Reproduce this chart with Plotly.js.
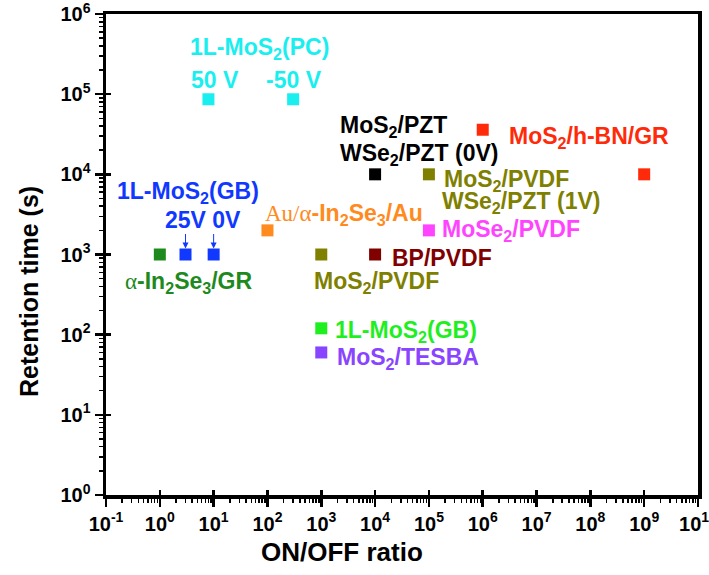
<!DOCTYPE html>
<html>
<head>
<meta charset="utf-8">
<script src="https://cdn.plot.ly/plotly-3.0.1.min.js"></script>
<style>html,body{margin:0;padding:0;background:#fff;}#chart{width:709px;height:575px;}</style>
</head>
<body>
<div id="chart"></div>
<script>
// ---- data ----
const pointNames = ['1L-MoS2(PC) 50 V', '1L-MoS2(PC) -50 V', 'a-In2Se3/GR', '1L-MoS2(GB) 25V', '1L-MoS2(GB) 0V',
  'Au/a-In2Se3/Au', 'MoS2/PVDF (a)', 'BP/PVDF', 'MoS2/PZT, WSe2/PZT (0V)', 'MoS2/PVDF, WSe2/PZT (1V)',
  'MoSe2/PVDF', 'MoS2/h-BN/GR', 'MoS2/h-BN/GR (b)', '1L-MoS2(GB) bright', 'MoS2/TESBA'];
const onOffRatio = [8, 300, 1, 3, 10, 100, 1000, 10000, 10000, 100000, 100000, 1000000, 1000000000, 1000, 1000];
const retentionTime = [86400, 86400, 1000, 1000, 1000, 2000, 1000, 1000, 10000, 10000, 2000, 36000, 10000, 120, 60];
const pointColors = ['#19EFEF', '#19EFEF', '#1E8A1E', '#1038FF', '#1038FF', '#FF8A1E', '#808000', '#800000',
  '#000000', '#808000', '#FF44FF', '#FF2A0A', '#FF2A0A', '#1FEE1F', '#8844FF'];

const xTickVals = [1e-1, 1e0, 1e1, 1e2, 1e3, 1e4, 1e5, 1e6, 1e7, 1e8, 1e9, 1e10];
const xTickText = ['10<sup>-1</sup>', '10<sup>0</sup>', '10<sup>1</sup>', '10<sup>2</sup>', '10<sup>3</sup>', '10<sup>4</sup>',
  '10<sup>5</sup>', '10<sup>6</sup>', '10<sup>7</sup>', '10<sup>8</sup>', '10<sup>9</sup>', '10<sup>10</sup>'];
const yTickVals = [1e0, 1e1, 1e2, 1e3, 1e4, 1e5, 1e6];
const yTickText = ['10<sup>0</sup>', '10<sup>1</sup>', '10<sup>2</sup>', '10<sup>3</sup>', '10<sup>4</sup>', '10<sup>5</sup>', '10<sup>6</sup>'];

const xTitle = 'ON/OFF ratio';
const yTitle = 'Retention time (s)';

const serifAlpha = '<span style="font-family:\'Liberation Serif\',serif;font-weight:normal">α</span>';
const labelTexts = [
  '1L-MoS<sub>2</sub>(PC)', '50 V', '-50 V',
  'MoS<sub>2</sub>/PZT', 'WSe<sub>2</sub>/PZT (0V)', 'MoS<sub>2</sub>/h-BN/GR',
  'MoS<sub>2</sub>/PVDF', 'WSe<sub>2</sub>/PZT (1V)', 'MoSe<sub>2</sub>/PVDF',
  '<span style="font-family:\'Liberation Serif\',serif;font-weight:normal">Au/α</span>-In<sub>2</sub>Se<sub>3</sub>/Au',
  '1L-MoS<sub>2</sub>(GB)', '25V 0V', serifAlpha + '-In<sub>2</sub>Se<sub>3</sub>/GR',
  'MoS<sub>2</sub>/PVDF', 'BP/PVDF', '1L-MoS<sub>2</sub>(GB)', 'MoS<sub>2</sub>/TESBA'
];

// ---- layout geometry ----
const W = 709, H = 575;
const M = {l: 106, r: 11, t: 14, b: 80};
const PW = W - M.l - M.r, PH = H - M.t - M.b;
const FONT = '"Liberation Sans", Arial, sans-serif';
const px = x => (x - M.l) / PW;
const pyp = y => (H - M.b - y) / PH;

// label placement [x px, y px, anchor, color]
const labelPos = [
  [259, 48, 'center', '#19EFEF'], [215, 80, 'center', '#19EFEF'], [294, 80, 'center', '#19EFEF'],
  [338, 127, 'left', '#000000'], [338, 155, 'left', '#000000'], [507, 137, 'left', '#FF2A0A'],
  [442, 180, 'left', '#808000'], [440, 202, 'left', '#808000'], [440, 231, 'left', '#FF44FF'],
  [263, 214, 'left', '#FF8A1E'], [115, 192, 'left', '#1038FF'], [163, 220, 'left', '#1038FF'],
  [123, 282, 'left', '#1E8A1E'], [312, 282, 'left', '#808000'], [390, 258, 'left', '#800000'],
  [333, 331, 'left', '#1FEE1F'], [335, 358, 'left', '#8844FF']
];

const annotations = labelTexts.map((t, i) => ({
  text: t, xref: 'paper', yref: 'paper',
  x: px(labelPos[i][0]), y: pyp(labelPos[i][1]),
  xanchor: labelPos[i][2], yanchor: 'middle', showarrow: false,
  font: {family: FONT, size: 23, color: labelPos[i][3], weight: 'bold'}
}));
// arrows from "25V" and "0V" to the 1L-MoS2(GB) points
[3, 4].forEach(i => {
  annotations.push({
    x: Math.log10(onOffRatio[i]), y: Math.log10(retentionTime[i]), xref: 'x', yref: 'y',
    text: '', showarrow: true, ax: 0, ay: -22, standoff: 6,
    arrowhead: 2, arrowsize: 1.2, arrowwidth: 1, arrowcolor: '#1038FF'
  });
});
// axis titles
annotations.push({
  text: xTitle, xref: 'paper', yref: 'paper', x: px(342), y: pyp(552),
  xanchor: 'center', yanchor: 'middle', showarrow: false,
  font: {family: FONT, size: 26, color: '#000', weight: 'bold'}
});
annotations.push({
  text: yTitle, xref: 'paper', yref: 'paper', x: px(29), y: pyp(292), textangle: -90,
  xanchor: 'center', yanchor: 'middle', showarrow: false,
  font: {family: FONT, size: 25, color: '#000', weight: 'bold'}
});

const traces = [{
  type: 'scatter', mode: 'markers', x: onOffRatio, y: retentionTime, text: pointNames,
  marker: {symbol: 'square', size: 12, color: pointColors, line: {width: 0}},
  showlegend: false, hoverinfo: 'text+x+y'
}, {
  type: 'scatter', mode: 'markers', x: [], y: [], xaxis: 'x2', yaxis: 'y2',
  showlegend: false, hoverinfo: 'skip'
}];

const axisCommon = {
  type: 'log', showgrid: false, zeroline: false,
  showline: true, linewidth: 3.5, linecolor: '#000', mirror: true,
  ticks: 'outside', ticklen: 8, tickwidth: 2.5, tickcolor: '#000',
  tickmode: 'array', ticklabeloverflow: 'allow',
  tickfont: {family: FONT, size: 20, color: '#000', weight: 'bold'},
  minor: {ticks: 'outside', ticklen: 4, tickwidth: 1.5, tickcolor: '#000', dtick: 'D1', showgrid: false}
};

const layout = {
  width: W, height: H, margin: M,
  paper_bgcolor: '#fff', plot_bgcolor: '#fff',
  showlegend: false,
  xaxis: Object.assign({}, axisCommon, {range: [-1, 10], tickvals: xTickVals, ticktext: xTickText}),
  yaxis: Object.assign({}, axisCommon, {range: [0, 6], tickvals: yTickVals, ticktext: yTickText}),
  xaxis2: {type: 'log', range: [-1, 10], overlaying: 'x', anchor: 'y2', side: 'bottom',
    showgrid: false, zeroline: false, showline: false, showticklabels: false,
    tickmode: 'array', tickvals: xTickVals, ticks: 'inside', ticklen: 5, tickwidth: 2.5, tickcolor: '#000'},
  yaxis2: {type: 'log', range: [0, 6], overlaying: 'y', anchor: 'x2', side: 'left',
    showgrid: false, zeroline: false, showline: false, showticklabels: false,
    tickmode: 'array', tickvals: yTickVals, ticks: 'inside', ticklen: 5, tickwidth: 2.5, tickcolor: '#000'},
  annotations: annotations
};

Plotly.newPlot('chart', traces, layout, {staticPlot: true, displayModeBar: false});
</script>
</body>
</html>
